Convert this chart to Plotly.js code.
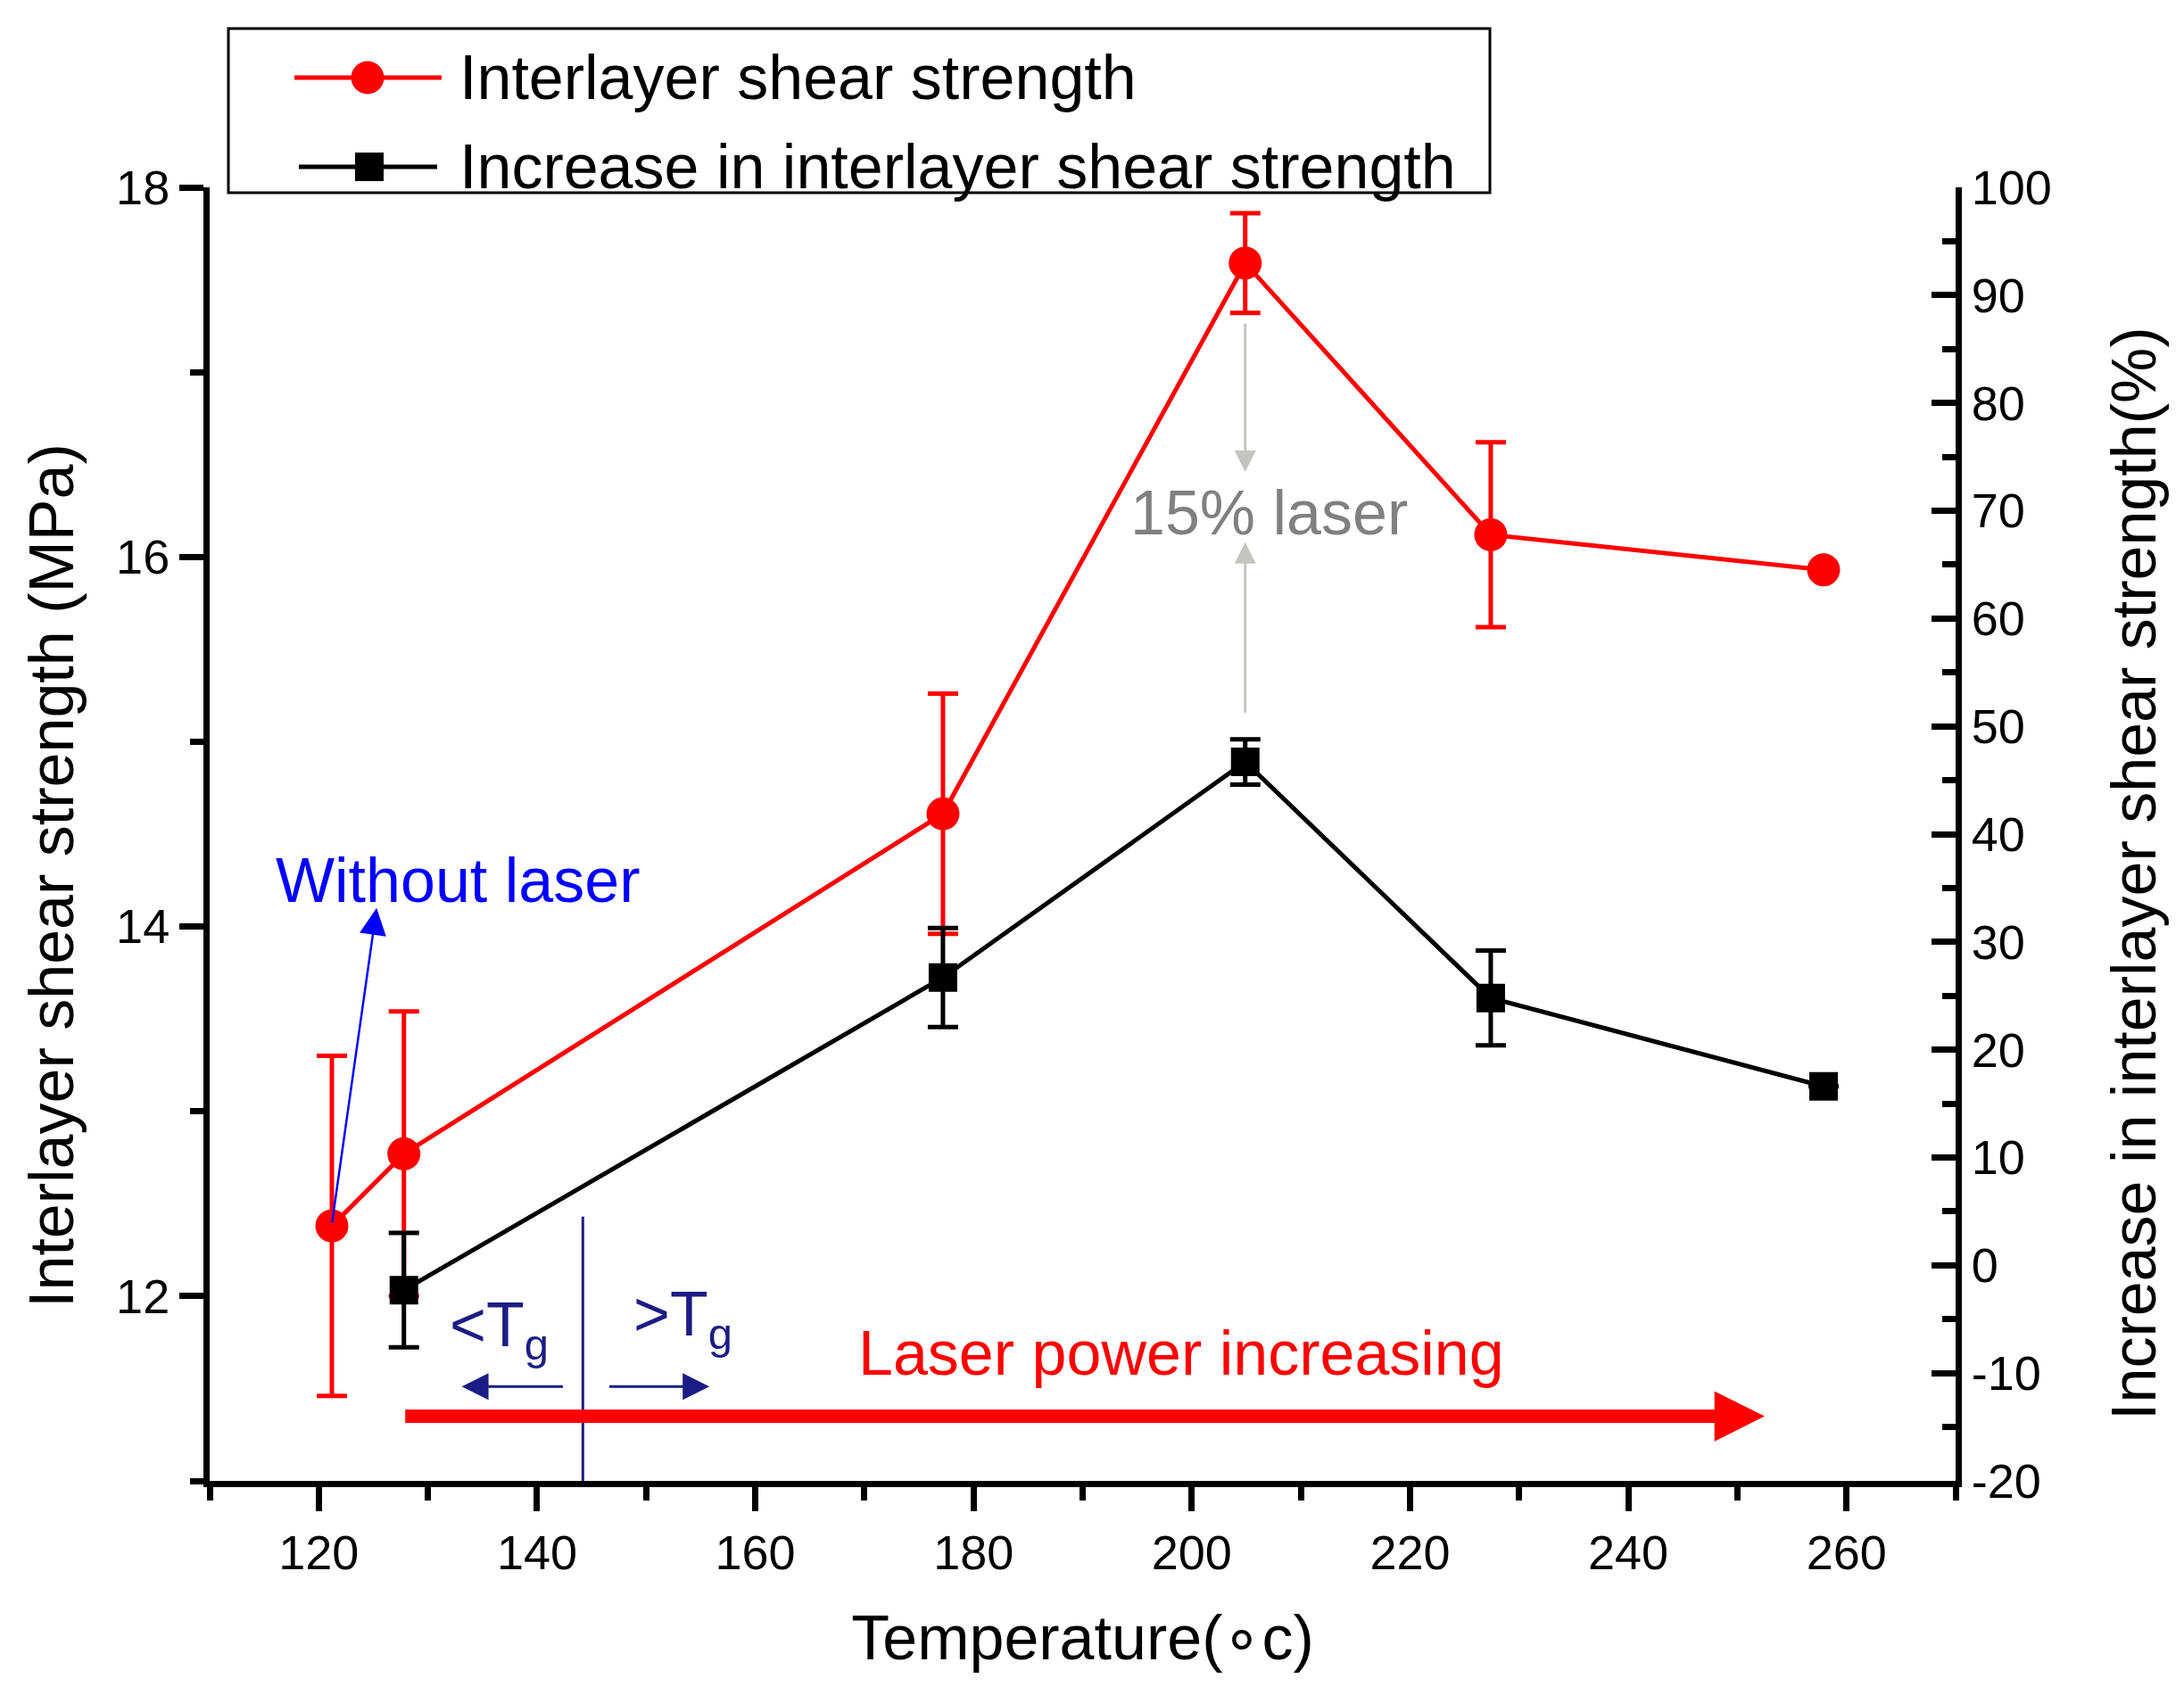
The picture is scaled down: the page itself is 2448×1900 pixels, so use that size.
<!DOCTYPE html>
<html>
<head>
<meta charset="utf-8">
<script src="https://cdn.plot.ly/plotly-3.0.1.min.js"></script>
<style>
  html, body { margin: 0; padding: 0; background: #fff; }
  #ilss_chart { width: 2448px; height: 1900px; }
</style>
</head>
<body>
<div id="ilss_chart"></div>
<script>
// values
var temp_strength = [121.2, 127.8, 177.2, 204.9, 227.4, 257.9]
var strength = [12.38, 12.77, 14.61, 17.59, 16.12, 15.93]
var strength_err = [0.92, 0.77, 0.65, 0.27, 0.50, 0]

var temp_increase = [127.8, 177.2, 204.9, 227.4, 257.9]
var increase = [-2.3, 26.7, 46.7, 24.8, 16.6]
var increase_err = [5.3, 4.6, 2.1, 4.4, 0]

var right_ticks = [-20, -10, 0, 10, 20, 30, 40, 50, 60, 70, 80, 90, 100]
var legend_names = ['Interlayer shear strength', 'Increase in interlayer shear strength']
var tg_temp = 144.2

var font_family = 'Liberation Sans, Arial, Helvetica, sans-serif'
var red = '#ff0000', navy = '#1c1c86', blue = '#0000ff'

var trace1 = {
    x: temp_strength,
    y: strength,
    name: legend_names[0],
    mode: 'lines+markers',
    line: {color: red, width: 5},
    marker: {color: red, symbol: 'circle', size: 37},
    error_y: {type: 'data', array: strength_err, visible: true, color: red, thickness: 5, width: 17},
    showlegend: false,
    type: 'scatter'
};

var trace2 = {
    x: temp_increase,
    y: increase,
    name: legend_names[1],
    yaxis: 'y2',
    mode: 'lines+markers',
    line: {color: '#000', width: 5},
    marker: {color: '#000', symbol: 'square', size: 32},
    error_y: {type: 'data', array: increase_err, visible: true, color: '#000', thickness: 5, width: 17},
    showlegend: false,
    type: 'scatter'
};

// plot area in pixels, used for the hand-made legend box and side titles
var plot_l = 235, plot_r = 2192, plot_t = 210, plot_b = 1660
function px(x) { return (x - plot_l) / (plot_r - plot_l) }
function py(y) { return (plot_b - y) / (plot_b - plot_t) }

var axis_common = {
    showgrid: false,
    zeroline: false,
    showline: true,
    linecolor: '#000',
    linewidth: 7,
    ticks: 'outside',
    ticklen: 27,
    tickwidth: 7,
    tickcolor: '#000',
    tickfont: {family: font_family, size: 54, color: '#000'},
    fixedrange: true
}

var layout = {
    width: 2448,
    height: 1900,
    margin: {l: plot_l, r: 2448 - plot_r, t: plot_t, b: 1900 - plot_b, pad: 0},
    paper_bgcolor: '#fff',
    plot_bgcolor: '#fff',
    font: {family: font_family, color: '#000'},
    showlegend: false,
    hovermode: false,
    xaxis: Object.assign({}, axis_common, {
        range: [110, 270],
        tick0: 0,
        dtick: 20,
        minor: {dtick: 10, ticks: 'outside', ticklen: 15, tickwidth: 7, tickcolor: '#000'},
        title: {text: 'Temperature(\u2218c)', font: {size: 70, family: font_family}, standoff: 45}
    }),
    yaxis: Object.assign({}, axis_common, {
        range: [11, 18],
        tick0: 0,
        dtick: 2,
        minor: {dtick: 1, ticks: 'outside', ticklen: 15, tickwidth: 7, tickcolor: '#000'}
    }),
    yaxis2: Object.assign({}, axis_common, {
        overlaying: 'y',
        side: 'right',
        range: [-20, 100],
        tickmode: 'array',
        tickvals: right_ticks,
        ticktext: right_ticks.map(String),
        ticks: 'inside',
        minor: {dtick: 5, ticks: 'inside', ticklen: 15, tickwidth: 7, tickcolor: '#000'}
    }),
    shapes: [
        // Tg divider
        {type: 'line', xref: 'x', yref: 'y', x0: tg_temp, x1: tg_temp, y0: 11, y1: 12.43,
         line: {color: navy, width: 3}},
        // legend box
        {type: 'rect', xref: 'paper', yref: 'paper', x0: px(256), x1: px(1670), y0: py(216), y1: py(32),
         line: {color: '#000', width: 3}, fillcolor: 'rgba(0,0,0,0)'},
        {type: 'line', xref: 'paper', yref: 'paper', x0: px(330), x1: px(495), y0: py(87), y1: py(87),
         line: {color: red, width: 5}},
        {type: 'circle', xref: 'paper', yref: 'paper', x0: px(412 - 18.5), x1: px(412 + 18.5), y0: py(87 + 18.5), y1: py(87 - 18.5),
         line: {color: red, width: 0}, fillcolor: red},
        {type: 'line', xref: 'paper', yref: 'paper', x0: px(335), x1: px(490), y0: py(187), y1: py(187),
         line: {color: '#000', width: 5}},
        {type: 'rect', xref: 'paper', yref: 'paper', x0: px(414 - 16), x1: px(414 + 16), y0: py(187 + 16), y1: py(187 - 16),
         line: {color: '#000', width: 0}, fillcolor: '#000'}
    ],
    annotations: [
        {xref: 'paper', yref: 'paper', x: px(513), y: py(87), xanchor: 'left', yanchor: 'middle', showarrow: false,
         text: legend_names[0], font: {size: 70, color: '#000'}},
        {xref: 'paper', yref: 'paper', x: px(513), y: py(187), xanchor: 'left', yanchor: 'middle', showarrow: false,
         text: legend_names[1], font: {size: 70, color: '#000'}},

        // side axis titles
        {xref: 'paper', yref: 'paper', x: px(58), y: py(982), xanchor: 'center', yanchor: 'middle', showarrow: false,
         textangle: -90, text: 'Interlayer shear strength (MPa)', font: {size: 70, color: '#000'}},
        {xref: 'paper', yref: 'paper', x: px(2392), y: py(979), xanchor: 'center', yanchor: 'middle', showarrow: false,
         textangle: -90, text: 'Increase in interlayer shear strength(%)', font: {size: 70, color: '#000'}},

        {x: 115.9, y: 14.25, xanchor: 'left', yanchor: 'middle', showarrow: false,
         text: 'Without laser', font: {size: 70, color: blue}},
        {x: 125.3, y: 14.1, ax: 121.2, ay: 12.39, axref: 'x', ayref: 'y', text: '', showarrow: true,
         arrowhead: 2, arrowsize: 2.4, arrowwidth: 2.5, arrowcolor: blue, standoff: 0, startstandoff: 0},

        {x: 194.2, y: 16.24, xanchor: 'left', yanchor: 'middle', showarrow: false,
         text: '15% laser', font: {size: 70, color: '#808080'}},
        {x: 204.9, y: 16.46, ax: 204.9, ay: 17.27, axref: 'x', ayref: 'y', text: '', showarrow: true,
         arrowhead: 2, arrowsize: 1.6, arrowwidth: 3, arrowcolor: '#c4c4c0', standoff: 0, startstandoff: 0},
        {x: 204.9, y: 16.08, ax: 204.9, ay: 15.15, axref: 'x', ayref: 'y', text: '', showarrow: true,
         arrowhead: 2, arrowsize: 1.6, arrowwidth: 3, arrowcolor: '#c4c4c0', standoff: 0, startstandoff: 0},

        {x: 131.8, y: 11.82, xanchor: 'left', yanchor: 'middle', showarrow: false,
         text: '&lt;T<sub>g</sub>', font: {size: 70, color: navy}},
        {x: 148.7, y: 11.88, xanchor: 'left', yanchor: 'middle', showarrow: false,
         text: '&gt;T<sub>g</sub>', font: {size: 70, color: navy}},
        {x: 133.1, y: 11.51, ax: 142.5, ay: 11.51, axref: 'x', ayref: 'y', text: '', showarrow: true,
         arrowhead: 2, arrowsize: 2, arrowwidth: 3, arrowcolor: navy, standoff: 0, startstandoff: 0},
        {x: 155.8, y: 11.51, ax: 146.5, ay: 11.51, axref: 'x', ayref: 'y', text: '', showarrow: true,
         arrowhead: 2, arrowsize: 2, arrowwidth: 3, arrowcolor: navy, standoff: 0, startstandoff: 0},

        {x: 199.0, y: 11.69, xanchor: 'center', yanchor: 'middle', showarrow: false,
         text: 'Laser power increasing', font: {size: 70, color: red}},
        {x: 252.5, y: 11.35, ax: 127.8, ay: 11.35, axref: 'x', ayref: 'y', text: '', showarrow: true,
         arrowhead: 2, arrowsize: 0.75, arrowwidth: 15, arrowcolor: red, standoff: 0, startstandoff: 0}
    ]
};

var data = [trace1, trace2];
Plotly.newPlot('ilss_chart', data, layout, {displayModeBar: false, staticPlot: true});
</script>
</body>
</html>
